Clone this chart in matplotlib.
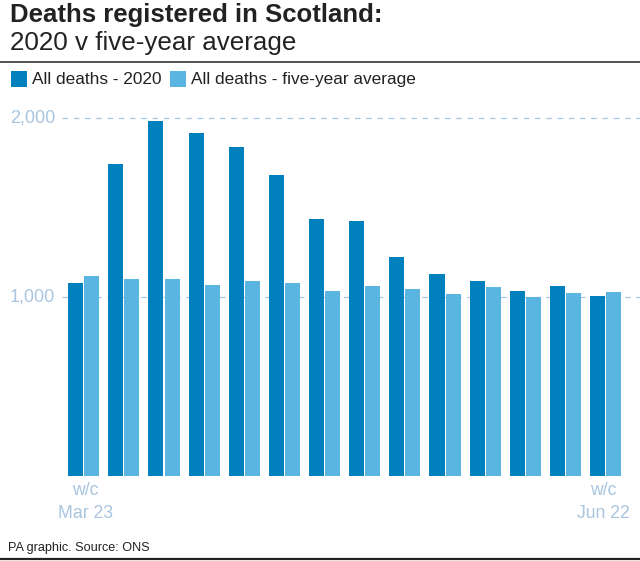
import matplotlib
matplotlib.use("Agg")
import matplotlib.pyplot as plt
from matplotlib.patches import Rectangle
from matplotlib.lines import Line2D
import numpy as np

deaths_2020 = [1078, 1743, 1983, 1916, 1838, 1681, 1436, 1425, 1223, 1128, 1089, 1034, 1061, 1005]
deaths_avg = [1117, 1100, 1100, 1067, 1089, 1078, 1033, 1061, 1045, 1017, 1056, 1000, 1022, 1028]
ytick_values = [1000, 2000]
ytick_labels = ["1,000", "2,000"]
first_label = "w/c\nMar 23"
last_label = "w/c\nJun 22"
title_bold = "Deaths registered in Scotland:"
title_light = "2020 v five-year average"
legend_labels = ["All deaths - 2020", "All deaths - five-year average"]
source = "PA graphic. Source: ONS"

DARK = "#0080BC"
LIGHT = "#5AB5E0"
AXIS = "#A9C5E0"
INK = "#222222"
W, H = 640, 561
plt.rcParams["font.family"] = ["Liberation Sans", "DejaVu Sans"]

fig = plt.figure(figsize=(W / 100, H / 100), dpi=100)
bg = fig.add_axes([0, 0, 1, 1])
bg.set_xlim(0, W); bg.set_ylim(H, 0); bg.axis("off")

top_px, base_px = 100, 476
ax = fig.add_axes([0, 1 - base_px / H, 1, (base_px - top_px) / H])
ax.patch.set_alpha(0)
step = 40.15
center0 = 83.7
ax.set_xlim(-center0 / step, (W - center0) / step)
ax.set_ylim(0, (base_px - top_px) / 0.179)
ax.axis("off")
x = np.arange(len(deaths_2020))
for v in ytick_values:
    ax.axhline(v, xmin=62 / W, xmax=1, color=AXIS, lw=0.9, dashes=(4.5, 4.5), zorder=1)
ax.bar(x - 0.2, deaths_2020, 0.375, color=DARK, zorder=2)
ax.bar(x + 0.2, deaths_avg, 0.375, color=LIGHT, zorder=2)
for v, l in zip(ytick_values, ytick_labels):
    ax.annotate(l, (10, v), xycoords=("axes pixels", "data"), color=AXIS, fontsize=13, va="center", ha="left")

bg.text(10, 15, title_bold, fontsize=18.55, fontweight="bold", color=INK, va="center", ha="left")
bg.text(10, 43, title_light, fontsize=18.75, color=INK, va="center", ha="left")
bg.add_line(Line2D([0, W], [61.5, 61.5], color="#333333", lw=1.2))
bg.add_patch(Rectangle((11, 71), 16, 16, color=DARK, lw=0))
bg.text(32, 79.5, legend_labels[0], fontsize=12.45, color=INK, va="center", ha="left")
bg.add_patch(Rectangle((170, 71), 16, 16, color=LIGHT, lw=0))
bg.text(191, 79.5, legend_labels[1], fontsize=12.45, color=INK, va="center", ha="left")

bg.text(85, 502, first_label, fontsize=12.7, color=AXIS, va="center", ha="center", linespacing=1.5)
bg.text(603.5, 502, last_label, fontsize=12.7, color=AXIS, va="center", ha="center", linespacing=1.5)
bg.text(8, 548, source, fontsize=9.1, color=INK, va="center", ha="left")
bg.add_line(Line2D([0, W], [559, 559], color="#222222", lw=1.6))

fig.savefig("out.png", dpi=100)
